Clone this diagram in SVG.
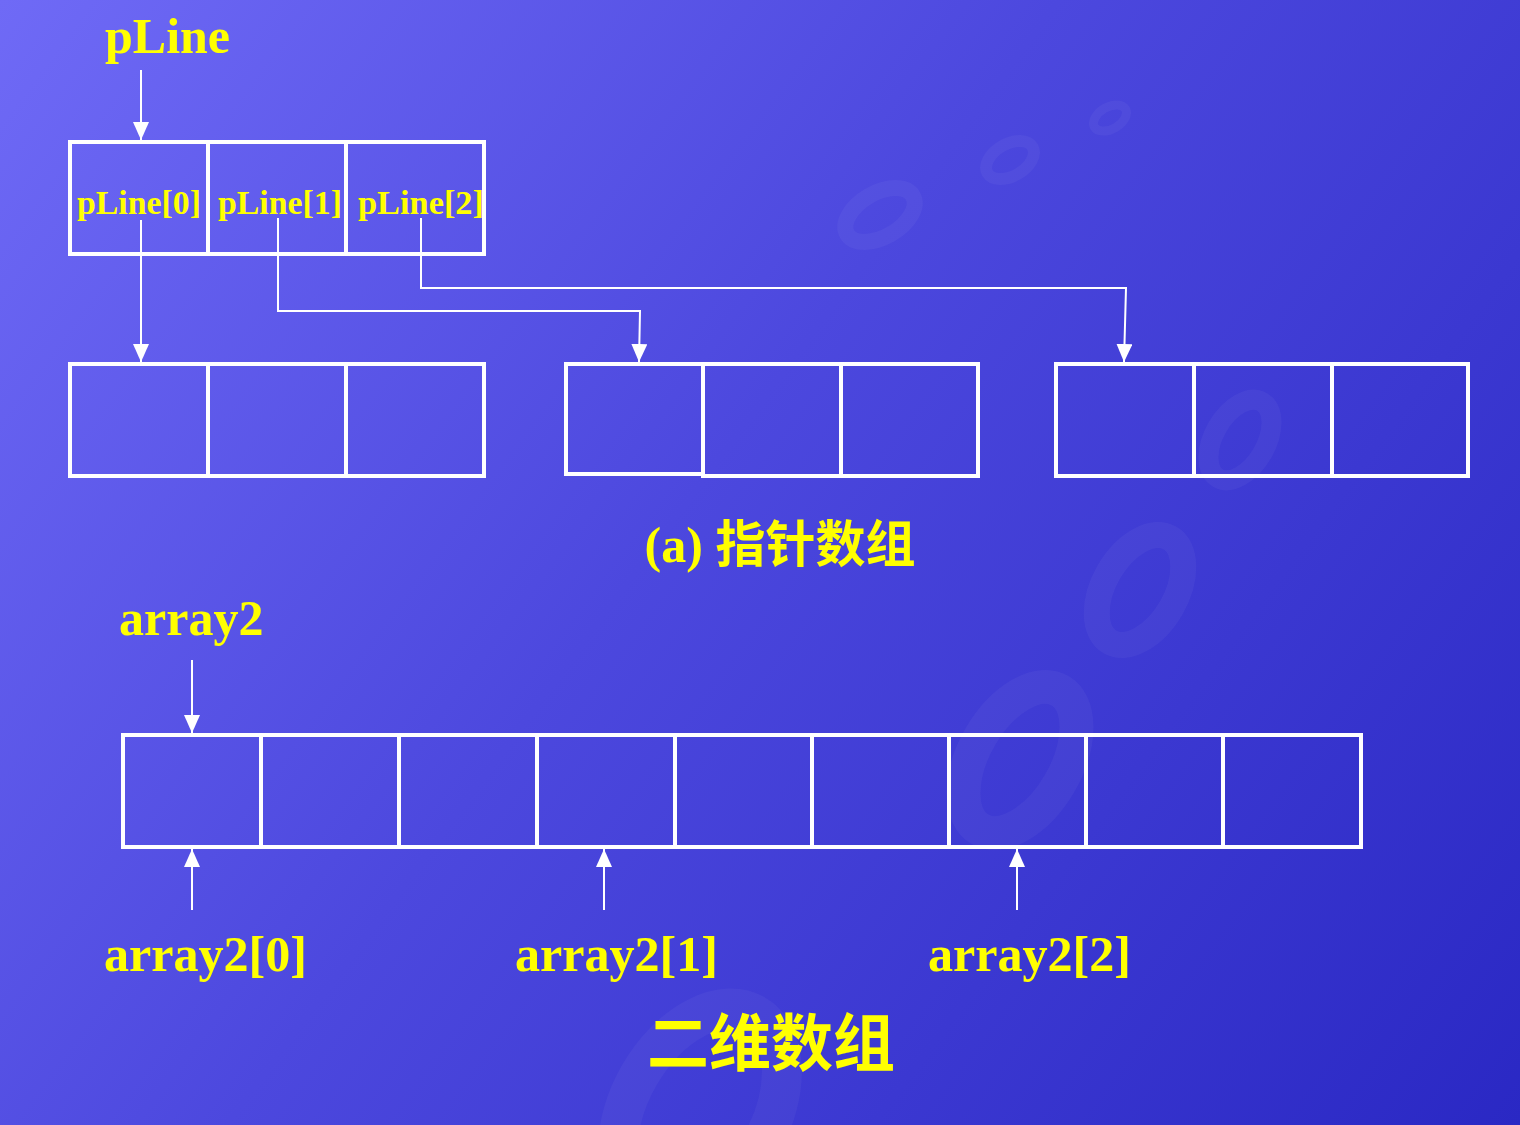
<svg xmlns="http://www.w3.org/2000/svg" width="1520" height="1125" viewBox="0 0 1520 1125">
  <defs>
    <linearGradient id="bg" x1="0" y1="0" x2="1520" y2="1125" gradientUnits="userSpaceOnUse">
      <stop offset="0" stop-color="#6f6af6"/>
      <stop offset="0.45" stop-color="#4c48de"/>
      <stop offset="1" stop-color="#2a28c4"/>
    </linearGradient>
    <marker id="arr" viewBox="0 0 18 16" refX="18" refY="8" markerWidth="18" markerHeight="16" markerUnits="userSpaceOnUse" orient="auto">
      <path d="M0,0 L18,8 L0,16 Z" fill="#ffffff"/>
    </marker>
    <style>
      .cell { fill: none; stroke: #ffffff; stroke-width: 4; }
      .con { fill: none; stroke: #ffffff; stroke-width: 2; }
      .lbl { font-family: "Liberation Serif", "Times New Roman", serif; font-weight: bold; fill: #ffff00; }
      .cjk { font-family: "Liberation Serif", "Noto Sans CJK SC", serif; font-weight: bold; fill: #ffff00; }
      .wm { fill: none; stroke: #ffffff; stroke-opacity: 0.04; }
    </style>
  </defs>

  <rect x="0" y="0" width="1520" height="1125" fill="url(#bg)"/>

  <!-- faint background pattern -->
  <g id="watermark">
    <ellipse class="wm" cx="880" cy="215" rx="38" ry="22" stroke-width="16" transform="rotate(-30 880 215)"/>
    <ellipse class="wm" cx="1010" cy="160" rx="26" ry="16" stroke-width="12" transform="rotate(-30 1010 160)"/>
    <ellipse class="wm" cx="1110" cy="118" rx="18" ry="11" stroke-width="9" transform="rotate(-30 1110 118)"/>
    <ellipse class="wm" cx="1140" cy="590" rx="60" ry="36" stroke-width="26" transform="rotate(-60 1140 590)"/>
    <ellipse class="wm" cx="1240" cy="440" rx="44" ry="26" stroke-width="20" transform="rotate(-60 1240 440)"/>
    <ellipse class="wm" cx="1020" cy="760" rx="80" ry="46" stroke-width="34" transform="rotate(-60 1020 760)"/>
    <ellipse class="wm" cx="700" cy="1110" rx="110" ry="70" stroke-width="40" transform="rotate(-60 700 1110)"/>
  </g>

  <!-- pointer array pLine -->
  <g id="pLine-label"><text class="lbl" x="105" y="53" font-size="50">pLine</text></g>
  <g id="pLine-array">
    <rect class="cell" x="70" y="142" width="138" height="112"/>
    <rect class="cell" x="208" y="142" width="138" height="112"/>
    <rect class="cell" x="346" y="142" width="138" height="112"/>
    <text class="lbl" x="77" y="214" font-size="34" textLength="124" lengthAdjust="spacingAndGlyphs">pLine[0]</text>
    <text class="lbl" x="218" y="214" font-size="34" textLength="124" lengthAdjust="spacingAndGlyphs">pLine[1]</text>
    <text class="lbl" x="358" y="214" font-size="34" textLength="126" lengthAdjust="spacingAndGlyphs">pLine[2]</text>
  </g>

  <!-- three row arrays -->
  <g id="row0">
    <rect class="cell" x="70" y="364" width="138" height="112"/>
    <rect class="cell" x="208" y="364" width="138" height="112"/>
    <rect class="cell" x="346" y="364" width="138" height="112"/>
  </g>
  <g id="row1">
    <rect class="cell" x="566" y="364" width="137" height="110"/>
    <rect class="cell" x="703" y="364" width="138" height="112"/>
    <rect class="cell" x="841" y="364" width="137" height="112"/>
  </g>
  <g id="row2">
    <rect class="cell" x="1056" y="364" width="138" height="112"/>
    <rect class="cell" x="1194" y="364" width="138" height="112"/>
    <rect class="cell" x="1332" y="364" width="136" height="112"/>
  </g>

  <g id="caption-a"><text class="cjk" x="780" y="562" font-size="50" text-anchor="middle">(a) 指针数组</text></g>

  <!-- 2D array -->
  <g id="array2-label"><text class="lbl" x="119" y="635" font-size="50">array2</text></g>
  <g id="array2">
    <rect class="cell" x="123" y="735" width="138" height="112"/>
    <rect class="cell" x="261" y="735" width="138" height="112"/>
    <rect class="cell" x="399" y="735" width="138" height="112"/>
    <rect class="cell" x="537" y="735" width="138" height="112"/>
    <rect class="cell" x="675" y="735" width="137" height="112"/>
    <rect class="cell" x="812" y="735" width="137" height="112"/>
    <rect class="cell" x="949" y="735" width="137" height="112"/>
    <rect class="cell" x="1086" y="735" width="137" height="112"/>
    <rect class="cell" x="1223" y="735" width="138" height="112"/>
  </g>
  <g id="array2-0"><text class="lbl" x="104" y="971" font-size="50" textLength="203" lengthAdjust="spacingAndGlyphs">array2[0]</text></g>
  <g id="array2-1"><text class="lbl" x="515" y="971" font-size="50" textLength="203" lengthAdjust="spacingAndGlyphs">array2[1]</text></g>
  <g id="array2-2"><text class="lbl" x="928" y="971" font-size="50" textLength="203" lengthAdjust="spacingAndGlyphs">array2[2]</text></g>

  <g id="caption-b"><text class="cjk" x="771" y="1066" font-size="62" text-anchor="middle">二维数组</text></g>

  <!-- connectors -->
  <g id="connectors">
    <line class="con" x1="141" y1="70" x2="141" y2="140" marker-end="url(#arr)"/>
    <line class="con" x1="141" y1="220" x2="141" y2="362" marker-end="url(#arr)"/>
    <polyline class="con" points="278,218 278,311 640,311 639,362" marker-end="url(#arr)"/>
    <polyline class="con" points="421,218 421,288 1126,288 1124,362" marker-end="url(#arr)"/>
    <line class="con" x1="192" y1="660" x2="192" y2="733" marker-end="url(#arr)"/>
    <line class="con" x1="192" y1="910" x2="192" y2="849" marker-end="url(#arr)"/>
    <line class="con" x1="604" y1="910" x2="604" y2="849" marker-end="url(#arr)"/>
    <line class="con" x1="1017" y1="910" x2="1017" y2="849" marker-end="url(#arr)"/>
  </g>
</svg>
